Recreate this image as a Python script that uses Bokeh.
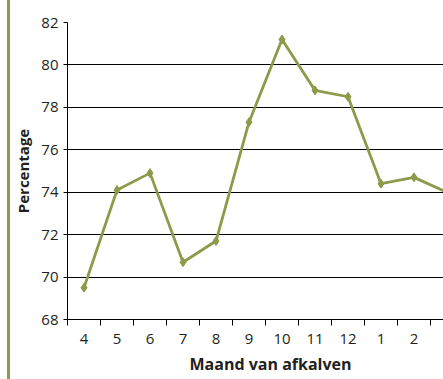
from bokeh.plotting import figure
from bokeh.models import Range1d, FixedTicker, Title, Div, Spacer
from bokeh.layouts import row
from bokeh.embed import file_html
from bokeh.resources import INLINE

# Calving month (April through March) and percentage per month
months = ["4", "5", "6", "7", "8", "9", "10", "11", "12", "1", "2", "3"]
percentages = [69.5, 74.1, 74.9, 70.7, 71.7, 77.3, 81.2, 78.8, 78.5, 74.4, 74.7, 74.0]
y_ticks = [68, 70, 72, 74, 76, 78, 80, 82]

GREEN = "#8c9a4a"
FONT = "Open Sans"
TEXT = "#231f20"

xs = [i + 0.5 for i in range(len(months))]

p = figure(
    width=433, height=379,
    output_backend="svg", toolbar_location=None,
    x_range=Range1d(0, 376 / 33), y_range=Range1d(68, 82),
    min_border_left=57, min_border_right=0, min_border_top=22, min_border_bottom=60,
    margin=0,
)
p.outline_line_color = None
p.background_fill_color = "white"
p.border_fill_color = "white"

# line with small diamond markers
p.line(xs, percentages, line_color=GREEN, line_width=2.8)
p.scatter(xs, percentages, marker="diamond", size=9, fill_color=GREEN, line_color=GREEN)

# x axis: labels centred on each month, ticks between months
xa = p.xaxis[0]
xa.ticker = FixedTicker(ticks=xs, minor_ticks=list(range(0, 13)))
xa.major_label_overrides = {x: m for x, m in zip(xs, months)}
xa.major_tick_line_color = None
xa.major_tick_out = 0
xa.major_tick_in = 0
xa.minor_tick_line_color = "black"
xa.minor_tick_out = 6
xa.minor_tick_in = 0
xa.axis_line_color = "black"
xa.major_label_text_font = FONT
xa.major_label_text_font_size = "15px"
xa.major_label_text_color = TEXT
xa.major_label_standoff = 8

# y axis
ya = p.yaxis[0]
ya.ticker = FixedTicker(ticks=y_ticks)
ya.minor_tick_line_color = None
ya.major_tick_out = 4
ya.major_tick_in = 0
ya.axis_line_color = "black"
ya.major_label_text_font = FONT
ya.major_label_text_font_size = "15px"
ya.major_label_text_color = TEXT
ya.major_label_standoff = 5
ya.axis_label = "Percentage"
ya.axis_label_text_font = FONT
ya.axis_label_text_font_size = "15px"
ya.axis_label_text_font_style = "bold"
ya.axis_label_text_color = TEXT
ya.axis_label_standoff = 5

p.xgrid.grid_line_color = None
p.ygrid.grid_line_color = "black"
p.ygrid.grid_line_width = 1

# x axis title, placed from the left edge of the frame
p.add_layout(Title(
    text="Maand van afkalven", align="left", offset=122, standoff=9,
    text_font=FONT, text_font_size="16px", text_font_style="bold",
    text_color=TEXT,
), "below")

# green rule along the left edge of the page
rule = Div(width=3, height=379, margin=0, styles={"background-color": GREEN})
layout = row(Spacer(width=7, height=379, margin=0), rule, p)

open("out.html", "w").write(file_html(layout, INLINE))
